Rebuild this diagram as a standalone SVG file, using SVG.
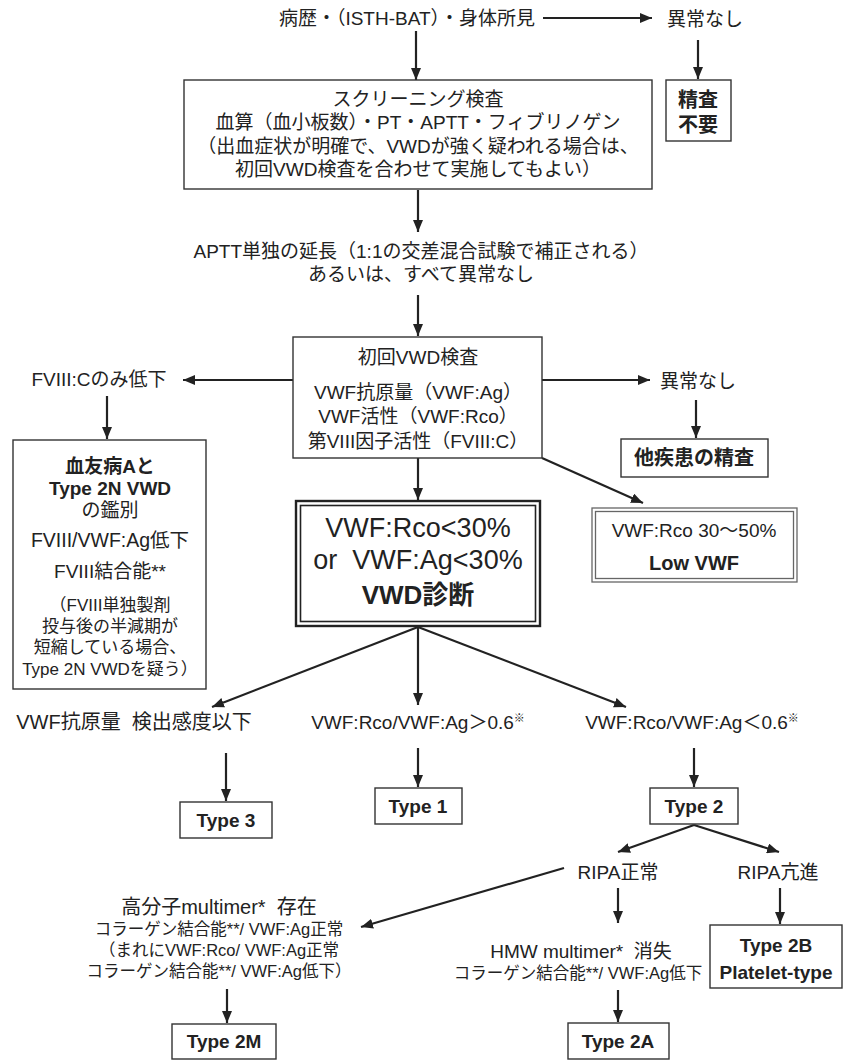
<svg xmlns="http://www.w3.org/2000/svg" width="846" height="1061" viewBox="0 0 846 1061">
<defs>
<marker id="ah" markerWidth="12" markerHeight="10" refX="12" refY="5" orient="auto" markerUnits="userSpaceOnUse"><path d="M0,0 L12,5 L0,10 z" fill="#222"/></marker>
<style>
text{font-family:"Liberation Sans","Noto Sans CJK JP",sans-serif;fill:#222;text-anchor:middle;font-size:19px}
.s{font-size:16.5px}
.b{font-weight:bold}
.bx{fill:#fff;stroke:#333;stroke-width:1.4}
.dbl{fill:none;stroke:#222;stroke-width:2.4}
.dbl2{fill:none;stroke:#666;stroke-width:1.3}
.c line{stroke:#222;stroke-width:2.2;marker-end:url(#ah)}
</style>
</defs>
<rect width="846" height="1061" fill="#fff"/>
<g class="c" id="connectors">
<line x1="543" y1="18" x2="652" y2="18"/>
<line x1="698" y1="40" x2="698" y2="79"/>
<line x1="416" y1="31" x2="416" y2="80"/>
<line x1="418" y1="190" x2="418" y2="232"/>
<line x1="418" y1="295" x2="418" y2="336"/>
<line x1="293" y1="380" x2="183" y2="380"/>
<line x1="542" y1="380" x2="650" y2="380"/>
<line x1="696" y1="400" x2="696" y2="438"/>
<line x1="542" y1="458" x2="643" y2="503"/>
<line x1="107" y1="396" x2="107" y2="439"/>
<line x1="418" y1="458" x2="418" y2="500"/>
<line x1="418" y1="627" x2="212" y2="707"/>
<line x1="418" y1="627" x2="418" y2="705"/>
<line x1="418" y1="627" x2="626" y2="707"/>
<line x1="226" y1="753" x2="226" y2="801"/>
<line x1="418" y1="748" x2="418" y2="787"/>
<line x1="694" y1="748" x2="694" y2="787"/>
<line x1="694" y1="825" x2="618" y2="852"/>
<line x1="694" y1="825" x2="779" y2="852"/>
<line x1="618" y1="888" x2="618" y2="923"/>
<line x1="780" y1="888" x2="780" y2="924"/>
<line x1="564" y1="868" x2="361" y2="927"/>
<line x1="618" y1="990" x2="618" y2="1022"/>
<line x1="227" y1="989" x2="227" y2="1023"/>
</g>
<g id="history"><text x="407" y="25">病歴・（ISTH-BAT）・身体所見</text></g>
<g id="normal1"><text x="705" y="26">異常なし</text></g>
<g id="noexam"><rect class="bx" x="666" y="80" width="65" height="61"/><text class="b" x="698" y="107" style="font-size:20px">精査</text><text class="b" x="698" y="132" style="font-size:20px">不要</text></g>
<g id="screening"><rect class="bx" x="184" y="80" width="468" height="109"/>
<text x="418" y="106">スクリーニング検査</text>
<text x="418" y="129">血算（血小板数）・PT・APTT・フィブリノゲン</text>
<text x="418" y="153">（出血症状が明確で、VWDが強く疑われる場合は、</text>
<text x="418" y="176">初回VWD検査を合わせて実施してもよい）</text></g>
<g id="aptt"><text x="421" y="258">APTT単独の延長（1:1の交差混合試験で補正される）</text><text x="421" y="281">あるいは、すべて異常なし</text></g>
<g id="initial"><rect class="bx" x="293" y="337" width="249" height="121"/>
<text x="418" y="364">初回VWD検査</text>
<text x="418" y="399">VWF抗原量（VWF:Ag）</text>
<text x="418" y="423">VWF活性（VWF:Rco）</text>
<text x="418" y="448">第VIII因子活性（FVIII:C）</text></g>
<g id="fviii"><text x="99" y="386">FVIII:Cのみ低下</text></g>
<g id="hemo"><rect class="bx" x="13" y="440" width="193" height="249"/>
<text class="b" x="110" y="473">血友病Aと</text>
<text class="b" x="110" y="495">Type 2N VWD</text>
<text x="110" y="517">の鑑別</text>
<text x="110" y="547" style="font-size:19.5px">FVIII/VWF:Ag低下</text>
<text x="110" y="578">FVIII結合能**</text>
<text class="s" x="110" y="611" style="font-size:17px">（FVIII単独製剤</text>
<text class="s" x="110" y="632" style="font-size:17px">投与後の半減期が</text>
<text class="s" x="110" y="653" style="font-size:17px">短縮している場合、</text>
<text class="s" x="110" y="675" style="font-size:17px">Type 2N VWDを疑う）</text></g>
<g id="normal2"><text x="698" y="388">異常なし</text></g>
<g id="other"><rect class="bx" x="621" y="439" width="147" height="38"/><text class="b" x="694" y="465" style="font-size:20px">他疾患の精査</text></g>
<g id="vwd"><rect class="dbl" x="296" y="501" width="244" height="125"/><rect class="dbl" x="300.5" y="505.5" width="235" height="116" style="stroke-width:1.6"/>
<text x="418" y="537" style="font-size:27px">VWF:Rco&lt;30%</text>
<text x="418" y="569" style="font-size:27px">or&#160;&#160;VWF:Ag&lt;30%</text>
<text class="b" x="418" y="604" style="font-size:26px">VWD診断</text></g>
<g id="lowvwf"><rect class="dbl2" x="592" y="508" width="205" height="74"/><rect class="dbl2" x="595.5" y="511.5" width="198" height="67"/>
<text x="694" y="537" style="font-size:19px">VWF:Rco 30〜50%</text>
<text class="b" x="694" y="570" style="font-size:20px">Low VWF</text></g>
<g id="cond3"><text x="134" y="729" style="font-size:20px">VWF抗原量&#160;&#160;検出感度以下</text></g>
<g id="cond1"><text x="418" y="729">VWF:Rco/VWF:Ag＞0.6<tspan style="font-size:11px" dy="-7">※</tspan></text></g>
<g id="cond2"><text x="692" y="729">VWF:Rco/VWF:Ag＜0.6<tspan style="font-size:11px" dy="-7">※</tspan></text></g>
<g id="type3"><rect class="bx" x="180" y="802" width="92" height="36"/><text class="b" x="226" y="827">Type 3</text></g>
<g id="type1"><rect class="bx" x="375" y="788" width="87" height="36"/><text class="b" x="418" y="813">Type 1</text></g>
<g id="type2"><rect class="bx" x="650" y="788" width="88" height="36"/><text class="b" x="694" y="813">Type 2</text></g>
<g id="ripan"><text x="618" y="879">RIPA正常</text></g>
<g id="ripah"><text x="778" y="879">RIPA亢進</text></g>
<g id="type2b"><rect class="bx" x="710" y="925" width="132" height="63"/><text class="b" x="776" y="952">Type 2B</text><text class="b" x="776" y="979">Platelet-type</text></g>
<g id="hmw"><text x="581" y="958">HMW multimer*&#160;&#160;消失</text><text class="s" x="578" y="979">コラーゲン結合能**/ VWF:Ag低下</text></g>
<g id="type2a"><rect class="bx" x="568" y="1023" width="101" height="36"/><text class="b" x="618" y="1048">Type 2A</text></g>
<g id="hmwp"><text x="219" y="914" style="font-size:20px">高分子multimer*&#160;&#160;存在</text>
<text class="s" x="219" y="935">コラーゲン結合能**/ VWF:Ag正常</text>
<text class="s" x="219" y="956">（まれにVWF:Rco/ VWF:Ag正常</text>
<text class="s" x="219" y="977">コラーゲン結合能**/ VWF:Ag低下）</text></g>
<g id="type2m"><rect class="bx" x="172" y="1024" width="104" height="35"/><text class="b" x="224" y="1048">Type 2M</text></g>
</svg>
